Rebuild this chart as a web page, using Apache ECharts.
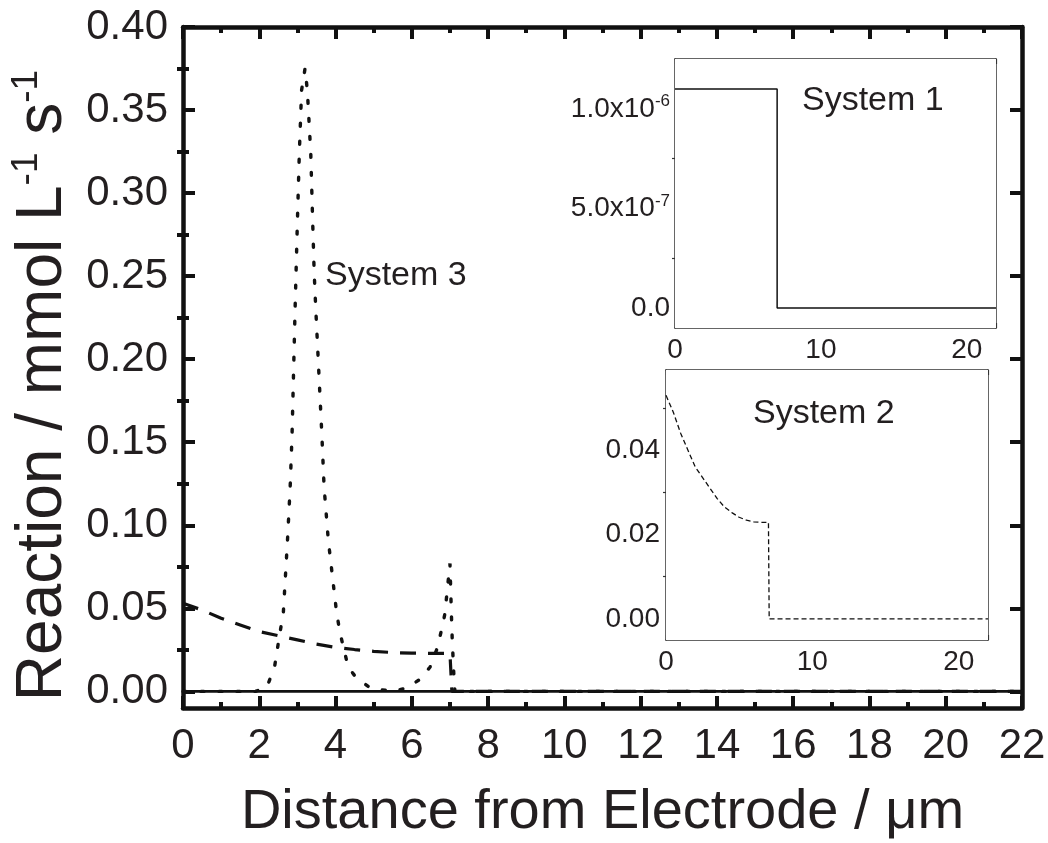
<!DOCTYPE html>
<html>
<head>
<meta charset="utf-8">
<script src="https://cdn.jsdelivr.net/npm/echarts@6/dist/echarts.min.js"></script>
<style>
  html, body { margin: 0; padding: 0; background: #ffffff; }
  #chart { width: 1048px; height: 843px; }
</style>
</head>
<body>
<div id="chart"></div>
<script>
// Reaction rate profiles (mmol L-1 s-1) against distance from the electrode (µm)

// System 1: uniform rate up to 7 µm, then zero
const sys1X = [0, 7, 7, 22];
const sys1Y = [1.1e-6, 1.1e-6, 0, 0];

// System 2: decaying rate inside the film, zero beyond 7 µm
const sys2X = [0, 0.5, 1, 1.5, 2, 2.5, 3, 3.5, 4, 4.5, 5, 5.5, 6, 6.5, 7, 7.05, 22];
const sys2Y = [0.053, 0.049, 0.044, 0.040, 0.036, 0.0335, 0.031, 0.0285, 0.0265, 0.0252,
               0.0241, 0.0234, 0.0230, 0.0229, 0.0229, 0, 0];

// System 3: sharp reaction zone near 3.2 µm and a smaller one at the film edge
const sys3X = [0, 1.9, 2.2, 2.4, 2.54, 2.63, 2.68, 2.74, 2.81, 2.86,
               2.94, 3.0, 3.05, 3.11, 3.2, 3.26, 3.35, 3.4, 3.44, 3.48,
               3.64, 3.7, 3.81, 3.93, 4.03, 4.12, 4.33, 4.55, 4.95, 5.2,
               5.5, 5.85, 6.2, 6.48, 6.65, 6.78, 6.87, 6.92, 7.0, 7.04,
               7.06, 7.1, 7.13, 22];
const sys3Y = [0, 0, 0.0026, 0.0147, 0.035, 0.047, 0.067, 0.091, 0.123, 0.155,
               0.231, 0.283, 0.324, 0.362, 0.375, 0.362, 0.324, 0.283, 0.252, 0.231,
               0.155, 0.123, 0.091, 0.067, 0.047, 0.035, 0.0147, 0.008, 0.0015, 0.001,
               0, 0.002, 0.007, 0.0147, 0.025, 0.037, 0.047, 0.059, 0.077, 0.045,
               0.031, 0.011, 0, 0];

// Tick values
const mainYMajor = [0, 0.05, 0.10, 0.15, 0.20, 0.25, 0.30, 0.35, 0.40];
const mainYMinor = [0.025, 0.075, 0.125, 0.175, 0.225, 0.275, 0.325, 0.375];
const insetXMajor = [0, 10, 20];
const inset1YMajor = [0, 5e-7, 1e-6];
const inset1YMinor = [2.5e-7, 7.5e-7];
const inset2YMajor = [0, 0.02, 0.04];
const inset2YMinor = [0.01, 0.03, 0.05];

const seriesLabels = ['System 1', 'System 2', 'System 3'];
const xTitle = 'Distance from Electrode / \u03bcm';

const FONT = 'Liberation Sans, Arial, Helvetica, sans-serif';
const INK = '#231f20';

const pairs = (xs, ys) => xs.map((x, i) => [x, ys[i]]);

function xAxes(grid, c) {
  const base = {
    type: 'value', gridIndex: grid, min: c.min, max: c.max, interval: c.interval,
    axisLine: { show: true, onZero: false, lineStyle: { color: c.color, width: c.lineW } },
    axisTick: { show: true, inside: true, length: c.tickLen, lineStyle: { color: c.color, width: c.tickW } },
    minorTick: { show: true, splitNumber: c.minorSplit, length: c.minorLen, lineStyle: { color: c.color, width: c.tickW } },
    splitLine: { show: false }, minorSplitLine: { show: false }
  };
  const label = { show: true, margin: c.labelMargin, color: INK, fontSize: c.labelSize, fontFamily: FONT };
  if (c.labelValues) label.customValues = c.labelValues;
  const bottom = Object.assign({}, base, { position: 'bottom', axisLabel: label });
  if (c.name) {
    bottom.name = c.name;
    bottom.nameLocation = 'middle';
    bottom.nameGap = c.nameGap;
    bottom.nameTextStyle = { fontSize: c.nameSize, fontFamily: FONT, color: INK };
  }
  const top = Object.assign({}, base, { position: 'top', axisLabel: { show: false } });
  return [bottom, top];
}

function yAxes(grid, c) {
  const base = {
    type: 'value', gridIndex: grid, min: c.min, max: c.max,
    splitLine: { show: false }
  };
  const tickStyle = { color: c.color, width: c.tickW };
  const majorLeft = Object.assign({}, base, {
    position: 'left',
    axisLine: { show: true, onZero: false, lineStyle: { color: c.color, width: c.lineW } },
    axisTick: { show: true, inside: true, length: c.tickLen, customValues: c.major, lineStyle: tickStyle },
    axisLabel: Object.assign({ show: true, customValues: c.major, margin: c.labelMargin, color: INK,
                               fontSize: c.labelSize, fontFamily: FONT }, c.label || {})
  });
  if (c.name) {
    majorLeft.name = c.name;
    majorLeft.nameLocation = 'middle';
    majorLeft.nameRotate = 90;
    majorLeft.nameGap = c.nameGap;
    majorLeft.nameTextStyle = c.nameStyle;
  }
  const minorLeft = Object.assign({}, base, {
    position: 'left',
    axisLine: { show: false },
    axisTick: { show: true, inside: true, length: c.minorLen, customValues: c.minor, lineStyle: tickStyle },
    axisLabel: { show: false }
  });
  const majorRight = Object.assign({}, base, {
    position: 'right',
    axisLine: { show: true, onZero: false, lineStyle: { color: c.color, width: c.lineW } },
    axisTick: { show: true, inside: true, length: c.tickLen, customValues: c.major, lineStyle: tickStyle },
    axisLabel: { show: false }
  });
  const minorRight = Object.assign({}, base, {
    position: 'right',
    axisLine: { show: false },
    axisTick: { show: true, inside: true, length: c.minorLen, customValues: c.minor, lineStyle: tickStyle },
    axisLabel: { show: false }
  });
  return [majorLeft, minorLeft, majorRight, minorRight];
}

// Scientific label like 1.0x10^-6 using rich text
function sciLabel(v) {
  if (Math.abs(v) < 1e-20) return '{b|0.0}';
  const exp = Math.floor(Math.log10(Math.abs(v)) + 1e-9);
  const mant = v / Math.pow(10, exp);
  return '{b|' + mant.toFixed(1) + 'x10}{s|' + exp + '}';
}

const mainX = { min: 0, max: 22, interval: 2, minorSplit: 2, color: '#111', lineW: 4.5, tickW: 4,
  tickLen: 12, minorLen: 6, labelMargin: 17, labelSize: 42,
  name: xTitle, nameGap: 77, nameSize: 56 };
const insetX = { min: 0, max: 22, interval: 10, minorSplit: 2, color: '#333', lineW: 1.5, tickW: 1.2,
  tickLen: 5, minorLen: 3, labelMargin: 8, labelSize: 28, labelValues: insetXMajor };

const mainY = { min: -0.01, max: 0.40, major: mainYMajor, minor: mainYMinor, color: '#111',
  lineW: 4.5, tickW: 4, tickLen: 12, minorLen: 6, labelMargin: 15, labelSize: 42,
  label: { formatter: v => v.toFixed(2) },
  name: '{b|Reaction / mmol L}{s|-1}{b| s}{s|-1}', nameGap: 96,
  nameStyle: { color: INK, fontFamily: FONT, padding: [0, 36, 0, 0],
    rich: { b: { fontSize: 64, lineHeight: 70, fontFamily: FONT, color: INK },
            s: { fontSize: 37, lineHeight: 40, verticalAlign: 'top', fontFamily: FONT, color: INK } } } };
const inset1Y = { min: -1e-7, max: 1.25e-6, major: inset1YMajor, minor: inset1YMinor, color: '#333',
  lineW: 1.5, tickW: 1.2, tickLen: 5, minorLen: 3, labelMargin: 5, labelSize: 28,
  label: { formatter: sciLabel,
    rich: { b: { fontSize: 28, lineHeight: 32, fontFamily: FONT, color: INK },
            s: { fontSize: 17, lineHeight: 17, verticalAlign: 'top', fontFamily: FONT, color: INK } } } };
const inset2Y = { min: -0.005, max: 0.059, major: inset2YMajor, minor: inset2YMinor, color: '#333',
  lineW: 1.5, tickW: 1.2, tickLen: 5, minorLen: 3, labelMargin: 6, labelSize: 28,
  label: { formatter: v => v.toFixed(2) } };

const option = {
  animation: false,
  backgroundColor: '#ffffff',
  grid: [
    { left: 183, top: 27, width: 839, height: 681, outerBoundsMode: 'none', containLabel: false },
    { left: 675, top: 59, width: 321, height: 269, outerBoundsMode: 'none', containLabel: false,
      show: true, backgroundColor: '#ffffff', borderWidth: 0, z: 5 },
    { left: 666, top: 370, width: 322, height: 270, outerBoundsMode: 'none', containLabel: false,
      show: true, backgroundColor: '#ffffff', borderWidth: 0, z: 5 }
  ],
  xAxis: [].concat(xAxes(0, mainX), xAxes(1, insetX), xAxes(2, insetX)),
  yAxis: [].concat(yAxes(0, mainY), yAxes(1, inset1Y), yAxes(2, inset2Y)),
  series: [
    { name: seriesLabels[0], type: 'line', xAxisIndex: 0, yAxisIndex: 0, data: pairs(sys1X, sys1Y),
      showSymbol: false, lineStyle: { color: '#111', width: 2.8, type: 'solid' }, z: 3 },
    { name: seriesLabels[1], type: 'line', xAxisIndex: 0, yAxisIndex: 0, data: pairs(sys2X, sys2Y),
      showSymbol: false, lineStyle: { color: '#111', width: 3.2, type: [16, 12], cap: 'butt' }, z: 3 },
    { name: seriesLabels[2], type: 'line', xAxisIndex: 0, yAxisIndex: 0, data: pairs(sys3X, sys3Y),
      showSymbol: false, lineStyle: { color: '#111', width: 3.4, type: [3, 15], cap: 'round' }, z: 3 },
    { name: seriesLabels[0] + ' inset', type: 'line', xAxisIndex: 2, yAxisIndex: 4, data: pairs(sys1X, sys1Y),
      showSymbol: false, lineStyle: { color: '#111', width: 1.5, type: 'solid' }, z: 6 },
    { name: seriesLabels[1] + ' inset', type: 'line', xAxisIndex: 4, yAxisIndex: 8, data: pairs(sys2X, sys2Y),
      showSymbol: false, lineStyle: { color: '#111', width: 1.3, type: [5, 3] }, z: 6 }
  ],
  graphic: [
    { type: 'text', left: 802, top: 84, z: 20,
      style: { text: seriesLabels[0], font: '34px ' + FONT, fill: INK } },
    { type: 'text', left: 753, top: 397, z: 20,
      style: { text: seriesLabels[1], font: '34px ' + FONT, fill: INK } },
    { type: 'text', left: 325, top: 259, z: 20,
      style: { text: seriesLabels[2], font: '34px ' + FONT, fill: INK } }
  ]
};

const chart = echarts.init(document.getElementById('chart'), null, { renderer: 'canvas' });
chart.setOption(option);
</script>
</body>
</html>
